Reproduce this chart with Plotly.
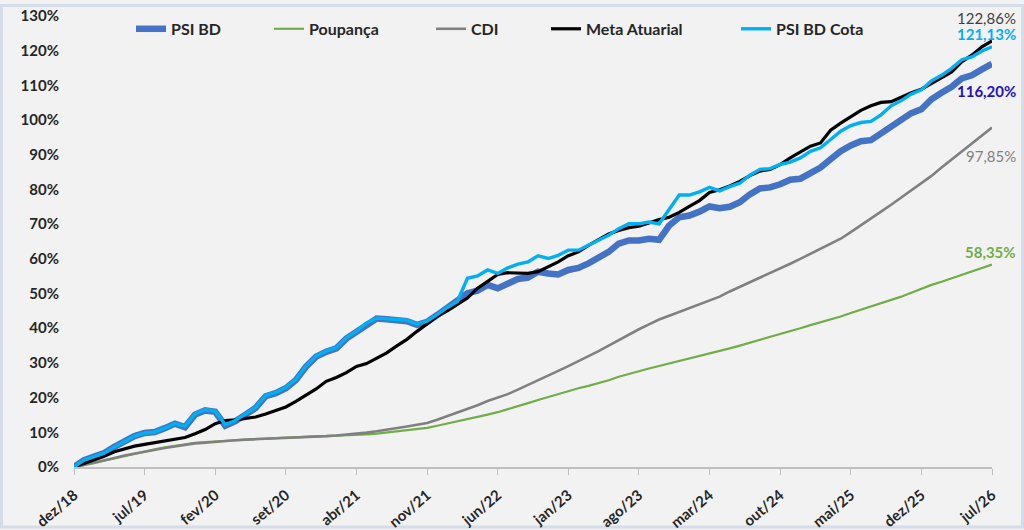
import plotly.graph_objects as go

# monthly series, dez/18 .. jul/26 (92 points), accumulated return in %
MONTH_ABBR = ["jan", "fev", "mar", "abr", "mai", "jun",
              "jul", "ago", "set", "out", "nov", "dez"]

TICK_LABELS = ["dez/18", "jul/19", "fev/20", "set/20", "abr/21", "nov/21",
               "jun/22", "jan/23", "ago/23", "mar/24", "out/24", "mai/25",
               "dez/25", "jul/26"]

psi_bd_cota = [
    0.0, 2.0, 3.0, 4.0, 5.8, 7.4, 8.9, 9.8, 10.1, 11.2,
    12.5, 11.7, 15.3, 16.5, 16.1, 12.2, 13.4, 15.3, 17.2, 20.6,
    21.5, 22.9, 25.3, 29.1, 32.0, 33.4, 34.4, 37.2, 39.1, 41.5,
    42.9, 42.7, 42.5, 42.3, 41.2, 42.0, 43.9, 46.0, 47.7, 54.4,
    55.1, 56.8, 55.8, 57.4, 58.5, 59.1, 60.9, 60.1, 61.0, 62.5,
    62.5, 63.9, 65.3, 66.8, 68.7, 70.1, 70.1, 70.6, 70.1, 74.4,
    78.4, 78.4, 79.3, 80.6, 79.6, 80.8, 81.8, 84.1, 85.8, 86.0,
    87.2, 87.9, 89.1, 91.0, 92.0, 94.4, 96.8, 98.4, 99.3, 99.6,
    101.5, 104.1, 105.6, 107.5, 108.7, 111.3, 112.9, 114.9, 117.4, 118.2,
    119.9, 121.13,
]

psi_bd = [
    0.0, 2.0, 3.0, 4.0, 5.8, 7.4, 8.9, 9.8, 10.1, 11.2,
    12.5, 11.5, 15.1, 16.3, 15.9, 11.9, 13.2, 15.1, 17.0, 20.4,
    21.3, 22.7, 25.1, 28.9, 31.8, 33.2, 34.2, 37.0, 38.9, 41.3,
    42.8, 42.6, 42.3, 42.0, 41.0, 41.8, 43.8, 45.9, 47.5, 50.1,
    50.8, 52.5, 51.5, 53.0, 54.2, 54.6, 56.3, 55.8, 55.5, 56.8,
    57.4, 58.7, 60.1, 62.0, 64.4, 65.3, 65.3, 65.8, 65.5, 69.6,
    72.0, 72.5, 73.6, 75.1, 74.6, 75.0, 76.3, 78.6, 80.3, 80.6,
    81.5, 82.8, 83.1, 84.9, 86.3, 88.7, 91.0, 92.7, 93.9, 94.2,
    96.1, 98.2, 99.6, 102.0, 103.1, 106.0, 107.9, 109.6, 112.0, 112.9,
    114.6, 116.20,
]

meta_atuarial = [
    0.0, 1.0, 2.0, 3.1, 4.4, 5.3, 6.0, 6.5, 7.0, 7.5,
    8.0, 8.5, 9.6, 10.8, 12.5, 13.4, 13.6, 14.1, 14.4, 15.3,
    16.3, 17.3, 18.9, 20.6, 22.5, 24.7, 25.8, 27.2, 29.0, 29.8,
    31.3, 32.9, 34.9, 36.8, 39.1, 41.2, 43.4, 45.0, 46.8, 48.7,
    51.5, 53.6, 55.5, 56.0, 55.8, 55.8, 56.3, 57.7, 59.1, 60.9,
    62.0, 63.9, 65.6, 67.2, 68.2, 69.0, 69.4, 70.4, 71.3, 72.0,
    73.4, 75.1, 76.8, 79.1, 79.9, 81.0, 82.3, 84.0, 85.3, 85.8,
    87.2, 89.1, 90.8, 92.5, 93.4, 97.1, 99.1, 101.0, 102.8, 104.1,
    105.1, 105.3, 106.6, 107.9, 108.9, 110.6, 112.3, 113.9, 116.8, 118.7,
    121.1, 122.86,
]

cdi = [
    0.0, 0.6, 1.3, 2.0, 2.6, 3.3, 3.9, 4.4, 5.0, 5.5,
    5.9, 6.4, 6.8, 7.0, 7.3, 7.5, 7.7, 7.9, 8.0, 8.1,
    8.2, 8.3, 8.4, 8.5, 8.7, 8.9, 9.1, 9.3, 9.6, 9.9,
    10.3, 10.7, 11.2, 11.7, 12.2, 12.7, 13.6, 14.6, 15.6, 16.6,
    17.8, 19.0, 20.0, 21.0, 22.3, 23.6, 24.9, 26.3, 27.7, 29.1,
    30.5, 32.0, 33.4, 35.0, 36.6, 38.2, 39.7, 41.1, 42.5, 43.6,
    44.7, 45.8, 46.9, 48.0, 49.1, 50.6, 51.9, 53.2, 54.5, 55.9,
    57.2, 58.6, 60.0, 61.5, 62.9, 64.3, 65.8, 67.7, 69.6, 71.5,
    73.6, 75.6, 77.7, 79.8, 81.8, 83.9, 86.3, 88.6, 91.0, 93.3,
    95.6, 97.85,
]

poupanca = [
    0.0, 0.5, 1.1, 1.8, 2.5, 3.2, 3.9, 4.5, 5.1, 5.7,
    6.2, 6.6, 7.0, 7.2, 7.4, 7.6, 7.8, 8.0, 8.1, 8.2,
    8.3, 8.4, 8.5, 8.6, 8.7, 8.8, 8.9, 9.0, 9.2, 9.4,
    9.6, 9.9, 10.2, 10.6, 10.9, 11.3, 11.9, 12.5, 13.2, 13.9,
    14.5, 15.1, 15.8, 16.6, 17.5, 18.4, 19.3, 20.2, 21.1, 22.0,
    22.7, 23.4, 24.1, 25.0, 26.0, 26.9, 27.6, 28.4, 29.1, 29.8,
    30.6, 31.3, 32.0, 32.7, 33.4, 34.2, 35.0, 35.8, 36.6, 37.4,
    38.2, 39.1, 40.0, 40.9, 41.7, 42.6, 43.4, 44.4, 45.3, 46.3,
    47.2, 48.2, 49.1, 50.2, 51.4, 52.5, 53.4, 54.4, 55.3, 56.3,
    57.3, 58.35,
]

# category labels mmm/yy starting at dez/18
months = []
year, mon = 2018, 11
for _ in range(len(psi_bd)):
    months.append(f"{MONTH_ABBR[mon]}/{str(year)[2:]}")
    mon += 1
    if mon == 12:
        mon = 0
        year += 1

FONT = "Lato"
TEXT = "#262626"

series = [
    ("PSI BD", psi_bd, "#4472C4", 6.5),
    ("Poupança", poupanca, "#70AD47", 2.2),
    ("CDI", cdi, "#808080", 2.6),
    ("Meta Atuarial", meta_atuarial, "#000000", 3.2),
    ("PSI BD Cota", psi_bd_cota, "#00B0F0", 3.4),
]

# left edge (px) of each legend entry
legend_px = [131, 269, 431, 546, 736]

L, T, W, H = 74, 12, 918, 455

fig = go.Figure()

layout_legends = {}
for i, (name, vals, color, width) in enumerate(series):
    key = "legend" if i == 0 else f"legend{i + 1}"
    fig.add_trace(
        go.Scatter(
            x=months,
            y=vals,
            mode="lines",
            name=name,
            line=dict(color=color, width=width),
            legend=key,
        )
    )
    layout_legends[key] = dict(
        x=(legend_px[i] - L) / W,
        y=(H - 25 + T) / H,
        xanchor="left",
        yanchor="middle",
        bgcolor="rgba(0,0,0,0)",
        font=dict(family=FONT, size=16, color=TEXT, weight="bold"),
        itemwidth=30,
    )

end_labels = [
    (meta_atuarial[-1], 129.3, "#404040", "normal"),
    (psi_bd_cota[-1], 124.7, "#00B0F0", "bold"),
    (psi_bd[-1], 108.3, "#2010C8", "bold"),
    (cdi[-1], 89.7, "#808080", "normal"),
    (poupanca[-1], 62.0, "#70AD47", "bold"),
]

for val, ypos, color, weight in end_labels:
    fig.add_annotation(
        x=(1018 - L) / W,
        xref="paper",
        y=ypos,
        yref="y",
        xanchor="right",
        yanchor="middle",
        text=f"{val:.2f}%".replace(".", ","),
        showarrow=False,
        font=dict(family=FONT, size=15, color=color, weight=weight),
    )

# light frame around the whole picture
fig.add_shape(
    type="rect",
    xref="paper",
    yref="paper",
    x0=(1.5 - L) / W,
    x1=(1022.5 - L) / W,
    y0=(T + H - 527.5) / H,
    y1=(T + H - 1.5) / H,
    line=dict(color="#D5DDE8", width=3),
    layer="below",
)

fig.update_layout(
    width=1024,
    height=530,
    margin=dict(l=L, r=1024 - L - W, t=T, b=530 - T - H),
    paper_bgcolor="#F2F2F2",
    plot_bgcolor="#F2F2F2",
    showlegend=True,
    **layout_legends,
)

fig.update_xaxes(
    type="category",
    range=[0, len(months) - 1],
    tickmode="array",
    tickvals=TICK_LABELS,
    ticktext=TICK_LABELS,
    tickangle=-40,
    showgrid=False,
    zeroline=False,
    showline=True,
    linecolor="#BFBFBF",
    linewidth=1.5,
    ticks="outside",
    ticklen=6,
    tickcolor="#BFBFBF",
    ticklabelstandoff=6,
    automargin=False,
    tickfont=dict(family=FONT, size=15, color=TEXT, weight="bold"),
)

fig.update_yaxes(
    range=[0, 130],
    dtick=10,
    ticksuffix="%",
    showgrid=False,
    zeroline=False,
    showline=False,
    ticklabelstandoff=14,
    automargin=False,
    tickfont=dict(family=FONT, size=15, color=TEXT, weight="bold"),
)

# page body has a default 8px margin; drop it so the figure sits at 0,0
fig.write_html(
    "out.html",
    config={"displayModeBar": False},
    post_script="document.body.style.margin='0';",
)
